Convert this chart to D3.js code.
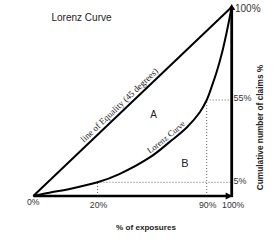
<!DOCTYPE html>
<html>
<head>
<meta charset="utf-8">
<script src="https://cdn.jsdelivr.net/npm/d3@7"></script>
<style>
  html, body { margin: 0; padding: 0; background: #fff; }
  svg { display: block; }
</style>
</head>
<body>
<svg id="chart" width="275" height="242"></svg>
<script>
// ---- data ----
const title = "Lorenz Curve";
const xAxisLabel = "% of exposures";
const yAxisLabel = "Cumulative number of claims %";
// Lorenz curve: cumulative % of exposures vs cumulative % of claims
const lorenzX = [0, 5, 11, 20, 34, 54, 66.5, 77.2, 85.7, 90, 92.1, 94.1, 96.1, 98.1, 100];
const lorenzY = [0, 1.2, 2.5, 5, 10, 20.4, 29.7, 38.3, 47.7, 55, 61.8, 69.0, 77.7, 88.4, 100];
// line of equality
const equalityX = [0, 100];
const equalityY = [0, 100];
// highlighted points (dotted guides)
const guideX = [20, 90];
const guideY = [5, 55];
// tick labels
const xTickValues = [0, 20, 90, 100];
const xTickLabels = ["0%", "20%", "90%", "100%"];
const yTickValues = [5, 55, 100];
const yTickLabels = ["5%", "55%", "100%"];
const areaLabels = ["A", "B"];
const equalityLabel = "line of Equality (45 degrees)";
const curveLabel = "Lorenz Curve";

// ---- scales (schematic, not to scale: piecewise through labelled points) ----
const x = d3.scaleLinear().domain([0, 20, 90, 100]).range([33.3, 97.5, 206.7, 231.7]);
const y = d3.scaleLinear().domain([0, 5, 55, 100]).range([196, 182.3, 100, 7]);

const svg = d3.select("#chart");
const sans = "'Liberation Sans', Arial, sans-serif";
const serif = "'Liberation Serif', 'Times New Roman', serif";

// dotted guides
guideX.forEach((gx, i) => {
  const gy = guideY[i];
  svg.append("line")
    .attr("x1", x(gx)).attr("x2", x(gx))
    .attr("y1", y(0)).attr("y2", y(gy))
    .attr("stroke", "#666").attr("stroke-width", 1).attr("stroke-dasharray", "1,2");
  svg.append("line")
    .attr("x1", x(gx)).attr("x2", x(100))
    .attr("y1", y(gy)).attr("y2", y(gy))
    .attr("stroke", "#666").attr("stroke-width", 1).attr("stroke-dasharray", "1,2");
});

// equality line
const eqLine = d3.line().x(d => x(d[0])).y(d => y(d[1]));
svg.append("path")
  .attr("d", eqLine(d3.zip(equalityX, equalityY)))
  .attr("fill", "none").attr("stroke", "#000").attr("stroke-width", 2);

// Lorenz curve
const curveLine = d3.line().x(d => x(d[0])).y(d => y(d[1])).curve(d3.curveCatmullRom.alpha(0.5));
const lorenzPath = svg.append("path")
  .attr("d", curveLine(d3.zip(lorenzX, lorenzY)))
  .attr("fill", "none").attr("stroke", "#000").attr("stroke-width", 2);

// axes with arrows
svg.append("line")
  .attr("x1", x(0)).attr("x2", x(100) - 4)
  .attr("y1", y(0)).attr("y2", y(0))
  .attr("stroke", "#000").attr("stroke-width", 2.5);
svg.append("path")
  .attr("d", `M${x(100) + 1},${y(0)} L${x(100) - 6},${y(0) - 3.5} L${x(100) - 6},${y(0) + 3.5} Z`)
  .attr("fill", "#000");
svg.append("line")
  .attr("x1", x(100)).attr("x2", x(100))
  .attr("y1", y(0) + 1.2).attr("y2", y(100) + 1)
  .attr("stroke", "#000").attr("stroke-width", 2.8);
svg.append("path")
  .attr("d", `M${x(100)},${y(100) - 3} L${x(100) - 3.5},${y(100) + 3} L${x(100) + 3.5},${y(100) + 3} Z`)
  .attr("fill", "#000");

// title
svg.append("text")
  .attr("x", 51.5).attr("y", 20.7)
  .attr("font-family", sans).attr("font-size", 10).attr("fill", "#222")
  .text(title);

// x tick labels
xTickValues.forEach((v, i) => {
  svg.append("text")
    .attr("x", x(v) + (v === 100 ? 1.5 : v === 0 ? 0 : 1))
    .attr("y", v === 0 ? 204.5 : 207.5)
    .attr("text-anchor", "middle")
    .attr("font-family", sans).attr("font-size", 8.7).attr("fill", "#333")
    .text(xTickLabels[i]);
});

// y tick labels
yTickValues.forEach((v, i) => {
  const top = v === 100;
  svg.append("text")
    .attr("x", x(100) + (top ? 3.3 : 1.8))
    .attr("y", y(v) + (top ? 4.8 : 1.2))
    .attr("font-family", sans).attr("font-size", top ? 10 : 9).attr("fill", "#333")
    .text(yTickLabels[i]);
});

// axis titles
svg.append("text")
  .attr("x", 146).attr("y", 230)
  .attr("text-anchor", "middle")
  .attr("font-family", sans).attr("font-weight", "bold").attr("font-size", 8.1).attr("fill", "#222")
  .text(xAxisLabel);
svg.append("text")
  .attr("transform", "translate(263.3,127.5) rotate(-90)")
  .attr("text-anchor", "middle")
  .attr("font-family", sans).attr("font-weight", "bold").attr("font-size", 8.3).attr("fill", "#222")
  .text(yAxisLabel);

// area labels
svg.append("text")
  .attr("x", 153.5).attr("y", 118.3).attr("text-anchor", "middle")
  .attr("font-family", sans).attr("font-size", 10).attr("fill", "#222")
  .text(areaLabels[0]);
svg.append("text")
  .attr("x", 185).attr("y", 166.5).attr("text-anchor", "middle")
  .attr("font-family", sans).attr("font-size", 11).attr("fill", "#222")
  .text(areaLabels[1]);

// text along the equality line (rotated to its angle)
const ex0 = x(equalityX[0]), ey0 = y(equalityY[0]);
const ex1 = x(equalityX[1]), ey1 = y(equalityY[1]);
const eqAngle = Math.atan2(ey1 - ey0, ex1 - ex0) * 180 / Math.PI;
const tpos = 0.456;
svg.append("text")
  .attr("transform", `translate(${ex0 + (ex1 - ex0) * tpos},${ey0 + (ey1 - ey0) * tpos}) rotate(${eqAngle})`)
  .attr("y", -3.5)
  .attr("text-anchor", "middle")
  .attr("font-family", serif).attr("font-size", 9).attr("fill", "#222")
  .text(equalityLabel);

// text along the Lorenz curve, glyph by glyph, centred where the curve reaches x ≈ 170px
const node = lorenzPath.node();
const total = node.getTotalLength();
let lo = 0, hi = total;
for (let k = 0; k < 40; k++) {
  const mid = (lo + hi) / 2;
  if (node.getPointAtLength(mid).x < 170) lo = mid; else hi = mid;
}
const fs = 8.5, off = 3;
const measure = svg.append("text").attr("font-family", serif).attr("font-size", fs);
const widths = Array.from(curveLabel).map(ch => {
  measure.text(ch === " " ? "\u00a0" : ch);
  return measure.node().getComputedTextLength();
});
measure.remove();
const totalW = d3.sum(widths);
let s = lo - totalW / 2;
Array.from(curveLabel).forEach((ch, i) => {
  const c = s + widths[i] / 2;
  const p = node.getPointAtLength(c);
  const p2 = node.getPointAtLength(Math.min(total, c + 0.5));
  const p1 = node.getPointAtLength(Math.max(0, c - 0.5));
  const ang = Math.atan2(p2.y - p1.y, p2.x - p1.x);
  const nx = Math.sin(ang) * off, ny = -Math.cos(ang) * off;
  if (ch !== " ") {
    svg.append("text")
      .attr("transform", `translate(${p.x + nx},${p.y + ny}) rotate(${ang * 180 / Math.PI})`)
      .attr("text-anchor", "middle")
      .attr("font-family", serif).attr("font-size", fs).attr("fill", "#222")
      .text(ch);
  }
  s += widths[i];
});
</script>
</body>
</html>
